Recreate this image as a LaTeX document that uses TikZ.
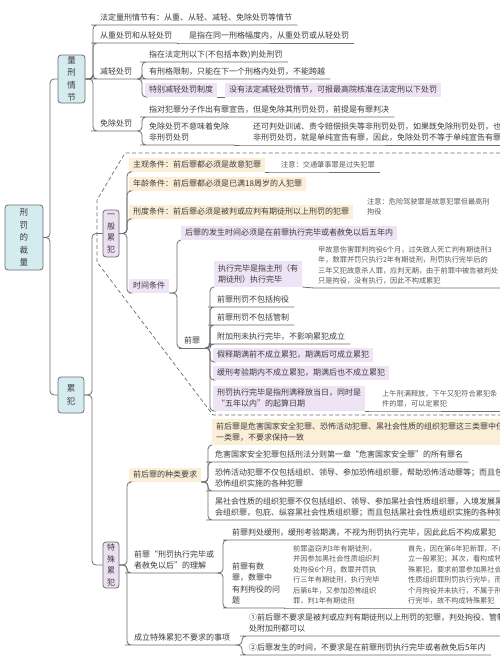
\documentclass[tikz,border=0pt]{standalone}
\usepackage{fontspec}
\setmainfont{Noto Sans CJK SC}

\definecolor{linecol}{HTML}{6E6E6E}
\definecolor{txtcol}{HTML}{3C3C3C}
\definecolor{notecol}{HTML}{5A5A5A}
\definecolor{bluefill}{HTML}{D4EBF0}
\definecolor{purpfill}{HTML}{ECDFF1}
\definecolor{purphl}{HTML}{EFE4F5}
\definecolor{orghl}{HTML}{FCEFD8}

\tikzset{
  link/.style={draw=linecol, line width=0.8pt, rounded corners=4pt},
  mainbox/.style={draw=linecol, line width=0.8pt, rounded corners=3pt, fill=bluefill,
    align=center, text=txtcol, inner sep=0pt, font=\fontsize{8.5}{12.5}\selectfont},
  subbox/.style={mainbox, fill=purpfill, font=\fontsize{8}{11.5}\selectfont},
  topic/.style={anchor=south west, inner xsep=5pt, inner ysep=3pt, text depth=1pt,
    align=left, text=txtcol, font=\fontsize{8}{11.5}\selectfont},
  purpletopic/.style={topic, fill=purphl, inner xsep=4pt},
  orangetopic/.style={topic, fill=orghl, inner xsep=4pt},
  note/.style={topic, text=notecol, font=\fontsize{7.2}{10.5}\selectfont},
}

\begin{document}
\begin{tikzpicture}[x=1pt,y=-1pt]
  \fill[white] (0,0) rectangle (500,656);
  \useasboundingbox (0,0) rectangle (500,656);

  % fork columns
  \coordinate (F0) at (50,0);
  \coordinate (F1) at (93,0);
  \coordinate (F2) at (142,0);
  \coordinate (F3) at (92,0);
  \coordinate (F4) at (127,0);
  \coordinate (F5) at (177,0);
  \coordinate (F6) at (210,0);
  \coordinate (F7) at (127,0);
  \coordinate (F8) at (208,0);
  \coordinate (F9) at (223,0);
  \coordinate (F10) at (242,0);

  % root and main branches
  \node[mainbox, minimum width=38pt, minimum height=65pt] (root) at (24,237.5) {刑\\罚\\的\\裁\\量};
  \node[mainbox, minimum width=27pt, minimum height=48pt] (lx) at (71.5,79) {量\\刑\\情\\节};
  \node[mainbox, minimum width=26pt, minimum height=36pt] (lf) at (71,395) {累\\犯};
  \foreach \c in {lx,lf}
    \draw[link] (root.east) -- (root.east -| F0) |- (\c.west);

  % 量刑情节
  \node[topic] (q1) at (95,25) {法定量刑情节有：从重、从轻、减轻、免除处罚等情节};
  \node[topic] (q2) at (95,43) {从重处罚和从轻处罚};
  \node[topic] (q2a) at (184,43) {是指在同一刑格幅度内，从重处罚或从轻处罚};
  \node[topic] (q3) at (95,79) {减轻处罚};
  \node[topic] (q4) at (95,131) {免除处罚};
  \foreach \c in {q1,q2,q3,q4}
    \draw[link] (lx.east) -- (lx.east -| F1) |- (\c.south west) -- (\c.south east);
  \draw[link] (q2.south east) -- (q2a.south west) -- (q2a.south east);

  \node[topic] (j1) at (144,62) {指在法定刑以下(不包括本数)判处刑罚};
  \node[topic] (j2) at (144,79) {有刑格限制，只能在下一个刑格内处罚，不能跨越};
  \node[purpletopic] (j3) at (145,97) {特别减轻处罚制度};
  \node[purpletopic] (j3a) at (225,97) {没有法定减轻处罚情节，可报最高院核准在法定刑以下处罚};
  \foreach \c in {j1,j2}
    \draw[link] (q3.south east) -- (q3.south east -| F2) |- (\c.south west) -- (\c.south east);
  \draw[link] (q3.south east) -- (q3.south east -| F2) |- (j3.south west);
  \draw[link] (j3.south east) -- (j3a.south west);

  \node[topic] (m1) at (144,117) {指对犯罪分子作出有罪宣告，但是免除其刑罚处罚，前提是有罪判决};
  \node[topic] (m2) at (144,145) {免除处罚不意味着免除\\非刑罚处罚};
  \node[topic] (m2a) at (248,145) {还可判处训诫、责令赔偿损失等非刑罚处罚，如果既免除刑罚处罚，也免除\\非刑罚处罚，就是单纯宣告有罪，因此，免除处罚不等于单纯宣告有罪};
  \foreach \c in {m1,m2}
    \draw[link] (q4.south east) -- (q4.south east -| F2) |- (\c.south west) -- (\c.south east);
  \draw[link] (m2.south east) -- (m2a.south west) -- (m2a.south east);

  % 累犯
  \node[subbox, minimum width=16pt, minimum height=47pt] (yb) at (111,233.5) {一\\般\\累\\犯};
  \node[subbox, minimum width=16pt, minimum height=46pt] (ts) at (111,565) {特\\殊\\累\\犯};
  \foreach \c in {yb,ts}
    \draw[link] (lf.east) -- (lf.east -| F3) |- (\c.west);
  \draw[linecol, line width=0.7pt, dash pattern=on 4pt off 2.5pt]
    (500,153) -- (125,153) -- (97,200) -- (97,262) -- (213,415) -- (500,415);

  % 一般累犯
  \node[orangetopic] (g1) at (129,172) {主观条件：前后罪都必须是故意犯罪};
  \node[note] (g1a) at (276,172) {注意：交通肇事罪是过失犯罪};
  \node[orangetopic] (g2) at (129,191) {年龄条件：前后罪都必须是已满18周岁的人犯罪};
  \node[orangetopic] (g3) at (129,219) {刑度条件：前后罪必须是被判或应判有期徒刑以上刑罚的犯罪};
  \node[note] (g3a) at (362,219) {注意：危险驾驶罪是故意犯罪但最高刑\\拘役};
  \node[purpletopic] (g4) at (129,293) {时间条件};
  \foreach \c in {g1,g2,g3,g4}
    \draw[link] (yb.east) -- (yb.east -| F4) |- (\c.south west);
  \draw[link] (g1.south east) -- (g1a.south west) -- (g1a.south east);

  \node[purpletopic] (t1) at (181,240) {后罪的发生时间必须是在前罪执行完毕或者赦免以后五年内};
  \node[topic] (t2) at (179,348) {前罪};
  \foreach \c in {t1,t2}
    \draw[link] (g4.south east) -- (g4.south east -| F5) |- (\c.south west);
  \draw[link] (t2.south west) -- (t2.south east);

  \node[purpletopic] (p1) at (214,287) {执行完毕是指主刑（有\\期徒刑）执行完毕};
  \node[note] (p1a) at (313,288) {甲故意伤害罪判拘役6个月，过失致人死亡判有期徒刑3\\年，数罪并罚只执行2年有期徒刑，刑罚执行完毕后的\\三年又犯故意杀人罪，应判无期，由于前罪中被告被判处\\只是拘役，没有执行，因此不构成累犯};
  \node[topic] (p2) at (212,307) {前罪刑罚不包括拘役};
  \node[topic] (p3) at (212,325) {前罪刑罚不包括管制};
  \node[topic] (p4) at (212,344) {附加刑未执行完毕，不影响累犯成立};
  \node[purpletopic] (p5) at (213,362) {假释期满前不成立累犯，期满后可成立累犯};
  \node[purpletopic] (p6) at (213,380) {缓刑考验期内不成立累犯，期满后也不成立累犯};
  \node[purpletopic] (p7) at (213,411) {刑罚执行完毕是指刑满释放当日，同时是\\“五年以内”的起算日期};
  \node[note] (p7a) at (377,411) {上午刑满释放，下午又犯符合累犯条\\件的罪，可以定累犯};
  \foreach \c in {p1,p5,p6,p7}
    \draw[link] (t2.south east) -- (t2.south east -| F6) |- (\c.south west);
  \foreach \c in {p2,p3,p4}
    \draw[link] (t2.south east) -- (t2.south east -| F6) |- (\c.south west) -- (\c.south east);
  \draw[link] (p1.south east) -- (p1a.south west) -- (p1a.south east);
  \draw[link] (p7.south east) -- (p7a.south west) -- (p7a.south east);

  % 特殊累犯
  \node[orangetopic] (s1) at (129,482) {前后罪的种类要求};
  \node[topic] (s2) at (129,573) {前罪“刑罚执行完毕或\\者赦免以后”的理解};
  \node[topic] (s3) at (129,645) {成立特殊累犯不要求的事项};
  \draw[link] (ts.east) -- (ts.east -| F7) |- (s1.south west);
  \foreach \c in {s2,s3}
    \draw[link] (ts.east) -- (ts.east -| F7) |- (\c.south west) -- (\c.south east);

  \node[orangetopic] (k1) at (212,445) {前后罪是危害国家安全犯罪、恐怖活动犯罪、黑社会性质的组织犯罪这三类罪中任\\一类罪，不要求保持一致};
  \node[topic] (k2) at (210,462) {危害国家安全犯罪包括刑法分则第一章“危害国家安全罪”的所有罪名};
  \node[topic] (k3) at (210,491) {恐怖活动犯罪不仅包括组织、领导、参加恐怖组织罪，帮助恐怖活动罪等；而且包括\\恐怖组织实施的各种犯罪};
  \node[topic] (k4) at (210,520) {黑社会性质的组织犯罪不仅包括组织、领导、参加黑社会性质组织罪，入境发展黑社\\会组织罪，包庇、纵容黑社会性质组织罪；而且包括黑社会性质组织实施的各种犯罪};
  \draw[link] (s1.south east) -- (s1.south east -| F8) |- (k1.south west);
  \foreach \c in {k2,k3,k4}
    \draw[link] (s1.south east) -- (s1.south east -| F8) |- (\c.south west) -- (\c.south east);

  \node[topic] (u1) at (227,540) {前罪判处缓刑，缓刑考验期满，不视为刑罚执行完毕，因此此后不构成累犯};
  \node[topic] (u2) at (227,608) {前罪有数\\罪，数罪中\\有判拘役的问\\题};
  \node[note] (u2a) at (288,608) {前罪盗窃判3年有期徒刑，\\并因参加黑社会性质组织判\\处拘役6个月，数罪并罚执\\行三年有期徒刑，执行完毕\\后第6年，又参加恐怖组织\\罪，判1年有期徒刑};
  \node[note] (u2b) at (403,608) {首先，因在第6年犯新罪，不成\\立一般累犯；其次，看构成特\\殊累犯，要求前罪参加黑社会\\性质组织罪刑罚执行完毕，而6\\个月拘役并未执行，不属于刑罚执\\行完毕，故不构成特殊累犯};
  \foreach \c in {u1,u2}
    \draw[link] (s2.south east) -- (s2.south east -| F9) |- (\c.south west) -- (\c.south east);
  \draw[link] (u2.south east) -- (u2a.south west) -- (u2a.south east) -- (u2b.south west) -- (u2b.south east);

  \node[topic] (v1) at (244,636) {①前后罪不要求是被判或应判有期徒刑以上刑罚的犯罪，判处拘役、管制或判\\处附加刑都可以};
  \node[topic] (v2) at (244,655) {②后罪发生的时间，不要求是在前罪刑罚执行完毕或者赦免后5年内};
  \foreach \c in {v1,v2}
    \draw[link] (s3.south east) -- (s3.south east -| F10) |- (\c.south west) -- (\c.south east);
\end{tikzpicture}
\end{document}
